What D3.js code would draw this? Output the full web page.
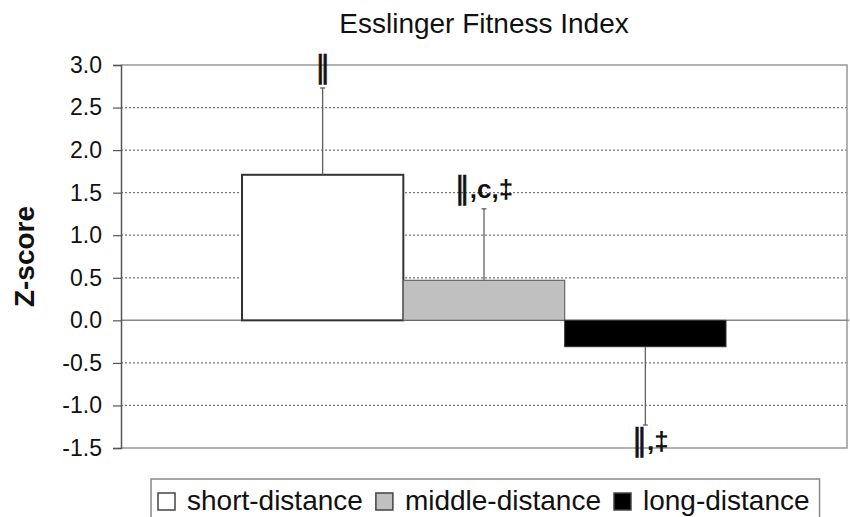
<!DOCTYPE html>
<html>
<head>
<meta charset="utf-8">
<script src="https://cdn.jsdelivr.net/npm/d3@7"></script>
<style>
  html, body { margin: 0; padding: 0; background: #fff; }
  svg { display: block; font-family: "Liberation Sans", Arial, sans-serif; }
</style>
</head>
<body>
<svg id="chart" width="850" height="517"></svg>
<script>
const title = "Esslinger Fitness Index";
const yLabel = "Z-score";
const categories = ["short-distance", "middle-distance", "long-distance"];
const values = [1.71, 0.47, -0.31];
const errors = [1.02, 0.84, 0.92];
const annotationMarks = ["\u2016", "\u2016", "\u2016"];
const annotationRest = ["", ",c,\u2021", ",\u2021"];
const fills = ["#ffffff", "#c0c0c0", "#000000"];
const yTicks = [-1.5, -1.0, -0.5, 0.0, 0.5, 1.0, 1.5, 2.0, 2.5, 3.0];

const svg = d3.select("#chart");
const plot = { left: 121, right: 847, top: 65, bottom: 448 };

const y = d3.scaleLinear().domain([-1.5, 3.0]).range([plot.bottom, plot.top]);
const group = d3.scaleBand().domain([title]).range([plot.left, plot.right]).padding(0.2);
const x = d3.scaleBand().domain(categories).range([0, group.bandwidth()]);
const gx = group(title);

// title
svg.append("text").attr("x", (plot.left + plot.right) / 2).attr("y", 33)
  .attr("text-anchor", "middle").attr("font-size", 28).attr("fill", "#111").text(title);

// y label
svg.append("text").attr("transform", `translate(34,${(plot.top + plot.bottom) / 2}) rotate(-90)`)
  .attr("text-anchor", "middle").attr("font-size", 28).attr("font-weight", "bold").attr("fill", "#111").text(yLabel);

// gridlines
svg.append("g").selectAll("line").data(yTicks.filter(t => t !== 0 && t !== 3.0 && t !== -1.5))
  .join("line")
  .attr("x1", plot.left).attr("x2", plot.right)
  .attr("y1", d => y(d)).attr("y2", d => y(d))
  .attr("stroke", "#777").attr("stroke-width", 1.2).attr("stroke-dasharray", "2,2");

// plot border (top, right, bottom)
svg.append("path")
  .attr("d", `M${plot.left},${y(3.0)}H${plot.right}V${y(-1.5)}H${plot.left}`)
  .attr("fill", "none").attr("stroke", "#999").attr("stroke-width", 1.5);

// zero line
svg.append("line").attr("x1", plot.left).attr("x2", plot.right + 2)
  .attr("y1", y(0)).attr("y2", y(0)).attr("stroke", "#888").attr("stroke-width", 1.5);

// bars
const strokes = ["#333", "#666", "#333"];
const sw = [2, 1.2, 1];
svg.append("g").selectAll("rect").data(categories).join("rect")
  .attr("x", (d, i) => gx + x(d))
  .attr("width", x.bandwidth())
  .attr("y", (d, i) => y(Math.max(0, values[i])))
  .attr("height", (d, i) => Math.abs(y(values[i]) - y(0)))
  .attr("fill", (d, i) => fills[i])
  .attr("stroke", (d, i) => strokes[i])
  .attr("stroke-width", (d, i) => sw[i]);

// error bars (one-sided, away from zero)
const eb = svg.append("g");
categories.forEach((c, i) => {
  const cx = gx + x(c) + x.bandwidth() / 2;
  const v = values[i];
  const end = v >= 0 ? v + errors[i] : v - errors[i];
  eb.append("line").attr("x1", cx).attr("x2", cx).attr("y1", y(v)).attr("y2", y(end))
    .attr("stroke", "#555").attr("stroke-width", 1.2);
  eb.append("line").attr("x1", cx - 2.5).attr("x2", cx + 2.5).attr("y1", y(end)).attr("y2", y(end))
    .attr("stroke", "#555").attr("stroke-width", 1.2);
  // annotation
  const ty = v >= 0 ? y(end) - 11 : y(end) + 25;
  const t = eb.append("text").attr("x", cx + (v >= 0 ? 0 : 5)).attr("y", ty)
    .attr("text-anchor", "middle").attr("fill", "#111");
  t.append("tspan").attr("font-family", "'DejaVu Sans', sans-serif").attr("font-size", 30)
    .attr("font-weight", "normal").attr("stroke", "#111").attr("stroke-width", 0.6)
    .text(annotationMarks[i]);
  t.append("tspan").attr("font-size", 26).attr("font-weight", "bold").text(annotationRest[i]);
});

// y axis
const axis = d3.axisLeft(y).tickValues(yTicks).tickFormat(d3.format(".1f")).tickSizeOuter(0).tickSize(8).tickPadding(11);
const ag = svg.append("g").attr("transform", `translate(${plot.left},0)`).call(axis);
ag.select(".domain").attr("stroke", "#555").attr("stroke-width", 1.5);
ag.selectAll(".tick line").attr("stroke", "#555").attr("stroke-width", 1.2);
ag.selectAll(".tick text").attr("font-size", 23).attr("fill", "#111")
  .attr("font-family", "'Liberation Sans', Arial, sans-serif")
  .text(d => (d < 0 ? "-" : "") + d3.format(".1f")(Math.abs(d)));

// legend
const lg = svg.append("g");
const legTop = 479;
let lx = 158;
categories.forEach((c, i) => {
  lg.append("rect").attr("x", lx).attr("y", 493).attr("width", 17).attr("height", 17)
    .attr("fill", fills[i]).attr("stroke", "#444").attr("stroke-width", 1.5);
  const t = lg.append("text").attr("x", lx + 29).attr("y", 510).attr("font-size", 28)
    .attr("fill", "#111").text(c);
  const w = t.node().getComputedTextLength();
  lx = lx + 29 + w + 13;
});
lg.insert("rect", ":first-child").attr("x", 151).attr("y", legTop)
  .attr("width", lx - 3 - 151).attr("height", 60)
  .attr("fill", "#fff").attr("stroke", "#888").attr("stroke-width", 1.5);
</script>
</body>
</html>
